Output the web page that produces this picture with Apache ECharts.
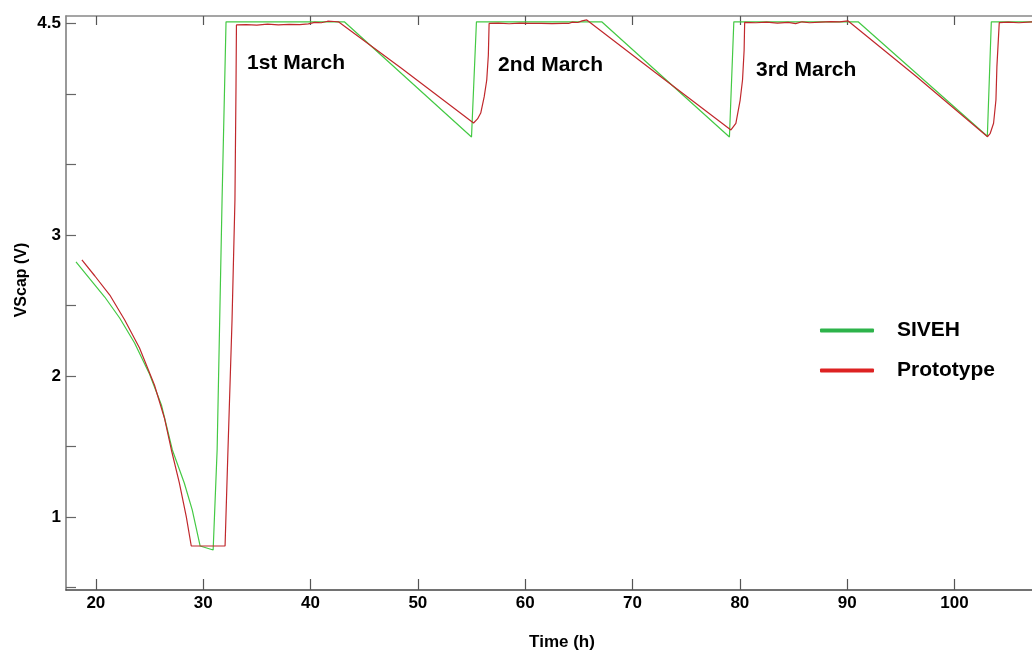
<!DOCTYPE html>
<html>
<head>
<meta charset="utf-8">
<title>VScap over time</title>
<script src="https://cdn.jsdelivr.net/npm/echarts@6/dist/echarts.min.js"></script>
<style>
  html, body { margin: 0; padding: 0; background: #fff; }
  #chart { width: 1032px; height: 653px; }
</style>
</head>
<body>
<div id="chart"></div>
<script>
// Supercapacitor voltage (V) against time (h): simulated SIVEH model vs. measured prototype.

// Axis ranges and tick values
const xMin = 17.22, xMax = 107.22;
const yMin = 0.482, yMax = 4.553;
const xTicks = [20, 30, 40, 50, 60, 70, 80, 90, 100];
const yTicks = [0.5, 1, 1.5, 2, 2.5, 3, 3.5, 4, 4.5];
const yLabels = [1, 2, 3, 4.5];

// SIVEH (simulation)
const sivehTime = [18.15, 19.44, 20.83, 22.22, 23.61, 25.0, 26.11, 27.13, 28.24, 28.98, 29.72, 30.93,
  31.30, 31.76, 32.13, 43.15, 55.0, 55.46, 67.13, 79.03, 79.44, 91.02, 103.06, 103.43, 107.5];
const sivehVolt = [2.809, 2.688, 2.560, 2.411, 2.234, 2.014, 1.794, 1.475, 1.241, 1.050, 0.794, 0.766,
  1.475, 3.248, 4.512, 4.512, 3.695, 4.512, 4.512, 3.695, 4.512, 4.512, 3.700, 4.512, 4.512];

// Prototype (measurement)
const protoTime = [18.70, 19.91, 21.30, 22.69, 24.07, 25.46, 26.39, 27.04, 27.78, 28.43, 28.89, 32.04,
  32.31, 32.69, 32.96, 33.06, 33.10,
  34.0, 35.0, 36.0, 37.0, 38.0, 39.0, 39.8, 40.4, 41.0, 41.6, 42.2, 42.6,
  48.5, 55.19,
  55.56, 55.86, 56.18, 56.42, 56.57, 56.64,
  57.5, 58.5, 59.5, 60.5, 61.5, 62.5, 63.5, 64.04, 64.4, 64.9, 65.3, 65.74,
  72.0, 79.17,
  79.63, 80.03, 80.25, 80.40, 80.45,
  81.5, 82.5, 83.5, 84.5, 85.2, 85.8, 86.5, 87.5, 88.5, 89.3, 90.09,
  96.5, 103.08,
  103.33, 103.64, 103.86, 103.95, 104.17,
  105.0, 106.0, 107.5];
const protoVolt = [2.823, 2.709, 2.574, 2.397, 2.199, 1.936, 1.702, 1.475, 1.241, 1.0, 0.794, 0.794,
  1.475, 2.397, 3.248, 4.06, 4.49,
  4.492, 4.488, 4.495, 4.490, 4.494, 4.492, 4.497, 4.508, 4.505, 4.516, 4.514, 4.512,
  4.18, 3.794,
  3.823, 3.865, 3.979, 4.099, 4.277, 4.500,
  4.502, 4.498, 4.503, 4.500, 4.501, 4.499, 4.500, 4.500, 4.510, 4.507, 4.518, 4.525,
  4.16, 3.745,
  3.792, 3.957, 4.099, 4.312, 4.508,
  4.505, 4.510, 4.503, 4.508, 4.499, 4.512, 4.505, 4.510, 4.513, 4.511, 4.518,
  4.12, 3.697,
  3.721, 3.792, 3.957, 4.194, 4.506,
  4.510, 4.505, 4.512];

// Day annotations
const dayLabels = ['1st March', '2nd March', '3rd March'];

const FONT = "'Liberation Sans', Arial, sans-serif";
const pairs = (ts, vs) => ts.map((t, i) => [t, vs[i]]);

const chart = echarts.init(document.getElementById('chart'), null, { renderer: 'canvas' });

const textBase = { fontFamily: FONT, fontWeight: 'bold', fill: '#000' };

chart.setOption({
  animation: false,
  backgroundColor: '#fff',
  grid: { left: 66, right: -6, top: 16, bottom: 63 },
  xAxis: [
    {
      type: 'value', position: 'bottom', min: xMin, max: xMax,
      axisLine: { show: true, lineStyle: { color: '#444', width: 1.5 } },
      axisTick: { show: true, inside: true, length: 11, customValues: xTicks, lineStyle: { color: '#555', width: 1.2 } },
      axisLabel: { customValues: xTicks, margin: 5, fontSize: 17, fontWeight: 'bold', color: '#000', fontFamily: FONT },
      splitLine: { show: false }
    },
    {
      type: 'value', position: 'top', min: xMin, max: xMax,
      axisLine: { show: true, lineStyle: { color: '#888', width: 1.5 } },
      axisTick: { show: true, inside: true, length: 9, customValues: xTicks, lineStyle: { color: '#555', width: 1.2 } },
      axisLabel: { show: false },
      splitLine: { show: false }
    }
  ],
  yAxis: {
    type: 'value', min: yMin, max: yMax,
    axisLine: { show: true, lineStyle: { color: '#777', width: 1.5 } },
    axisTick: { show: true, inside: true, length: 10, customValues: yTicks, lineStyle: { color: '#666', width: 1.2 } },
    axisLabel: { customValues: yLabels, margin: 5, fontSize: 17, fontWeight: 'bold', color: '#000', fontFamily: FONT },
    splitLine: { show: false }
  },
  legend: {
    orient: 'vertical', left: 815, top: 315,
    icon: 'roundRect', itemWidth: 54, itemHeight: 4, itemGap: 19,
    textStyle: { fontSize: 21, fontWeight: 'bold', color: '#000', fontFamily: FONT, padding: [0, 0, 0, 18] },
    data: [
      { name: 'SIVEH', itemStyle: { color: '#2db34a' } },
      { name: 'Prototype', itemStyle: { color: '#dd2222' } }
    ]
  },
  series: [
    {
      name: 'SIVEH', type: 'line', xAxisIndex: 0, yAxisIndex: 0,
      data: pairs(sivehTime, sivehVolt), showSymbol: false, clip: true,
      lineStyle: { color: '#44c944', width: 1.2 }, itemStyle: { color: '#2db34a' }, z: 2
    },
    {
      name: 'Prototype', type: 'line', xAxisIndex: 0, yAxisIndex: 0,
      data: pairs(protoTime, protoVolt), showSymbol: false, clip: true,
      lineStyle: { color: '#c0282c', width: 1.2 }, itemStyle: { color: '#dd2222' }, z: 3
    }
  ],
  graphic: [
    { type: 'text', x: 22, y: 280, rotation: Math.PI / 2,
      style: Object.assign({ text: 'VScap (V)', fontSize: 16, align: 'center', verticalAlign: 'middle' }, textBase) },
    { type: 'text', x: 562, y: 642,
      style: Object.assign({ text: 'Time (h)', fontSize: 17, align: 'center', verticalAlign: 'middle' }, textBase) },
    { type: 'text', x: 247, y: 63,
      style: Object.assign({ text: dayLabels[0], fontSize: 21, align: 'left', verticalAlign: 'middle' }, textBase) },
    { type: 'text', x: 498, y: 65,
      style: Object.assign({ text: dayLabels[1], fontSize: 21, align: 'left', verticalAlign: 'middle' }, textBase) },
    { type: 'text', x: 756, y: 70,
      style: Object.assign({ text: dayLabels[2], fontSize: 21, align: 'left', verticalAlign: 'middle' }, textBase) }
  ]
});
</script>
</body>
</html>
